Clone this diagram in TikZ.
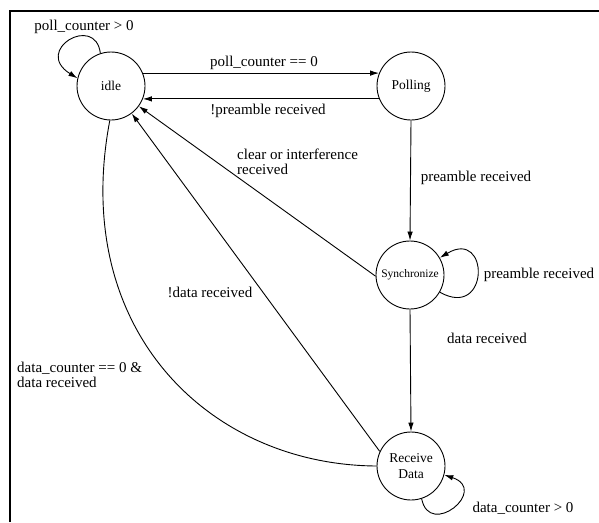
\documentclass[tikz,border=0pt]{standalone}
\usepackage{fontspec}
\setmainfont{Liberation Serif}
\usetikzlibrary{arrows.meta}
\begin{document}
\begin{tikzpicture}[x=1pt,y=-1pt,
  state/.style={draw,circle,line width=0.9pt,minimum size=68pt,inner sep=0pt,align=center,font=\fontsize{13.5}{16}\selectfont},
  lbl/.style={font=\fontsize{15}{15}\selectfont,inner sep=0pt},
  edge/.style={line width=0.9pt,-{Latex[length=9pt,width=5.5pt]}},
  plain/.style={line width=0.9pt}]
\useasboundingbox (0,0) rectangle (599,522);
% frame
\draw[line width=2.6pt] (10,522) -- (10,11) -- (599,11);
% states
\node[state] (idle) at (111,86) {idle};
\node[state] (poll) at (411,86) {Polling};
\node[state,font=\fontsize{11.5}{14}\selectfont] (sync) at (410,275) {Synchronize};
\node[state] (rd) at (411,466) {Receive\\Data};
% transitions
\draw[edge] (idle.22) -- (poll.158);
\draw[edge] (poll.202) -- (idle.-22);
\draw[edge] (poll.south) -- (sync.north);
\draw[edge] (sync.south) -- (rd.north);
\draw[edge] (sync.182) -- (idle.-36);
\draw[edge] (rd.155) -- (idle.-53);
\draw[plain] (idle.-92) .. controls +(-40,210) and +(-167,-1) .. (rd.west);
% self loops
\draw[edge] (idle.108) .. controls +(-5,-40) and +(-45,-28) .. (idle.167);
\draw[edge] (sync.-30) .. controls +(50,28) and +(50,-30) .. (sync.30);
\draw[edge] (rd.-72) .. controls +(8,40) and +(45,15) .. (rd.-15);
% labels
\node[lbl] (l1) at (84,27) {poll\_counter > 0};
\node[lbl] (l2) at (264,63) {poll\_counter == 0};
\node[lbl] (l3) at (268,111) {!preamble received};
\node[lbl,anchor=west,align=left] (l4) at (237,162) {clear or interference\\received};
\node[lbl] (l5) at (476,178) {preamble received};
\node[lbl] (l6) at (539,275) {preamble received};
\node[lbl] (l7) at (487,338) {data received};
\node[lbl] (l8) at (210,292) {!data received};
\node[lbl,anchor=west,align=left] (l9) at (17,375) {data\_counter == 0 \&\\data received};
\node[lbl] (l10) at (523,508) {data\_counter > 0};
\end{tikzpicture}
\end{document}
